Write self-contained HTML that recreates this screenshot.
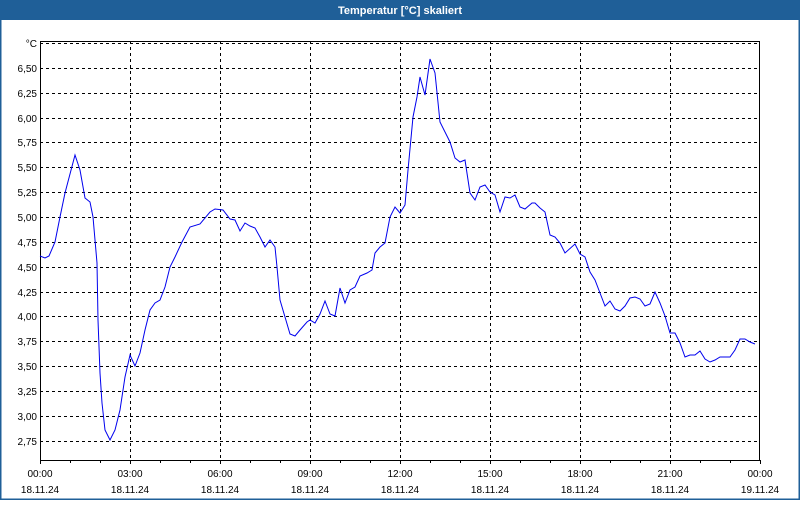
<!DOCTYPE html>
<html><head><meta charset="utf-8"><style>
body{margin:0;width:800px;height:500px;overflow:hidden;background:#fff;font-family:"Liberation Sans",sans-serif}
</style></head><body>
<svg width="800" height="500" xmlns="http://www.w3.org/2000/svg" font-family="Liberation Sans, sans-serif" font-size="11">
<rect x="0" y="0" width="800" height="500" fill="#fff"/>
<rect x="0" y="0" width="800" height="20" fill="#1f5f98"/>
<rect x="0" y="0" width="1.5" height="500" fill="#1f5f98"/>
<rect x="798.5" y="0" width="1.5" height="500" fill="#1f5f98"/>
<rect x="0" y="498.5" width="800" height="1.5" fill="#1f5f98"/>
<text x="400" y="14" fill="#fff" font-weight="bold" text-anchor="middle" font-size="11">Temperatur [°C] skaliert</text>
<g stroke="#000" stroke-width="1" stroke-dasharray="3,3" shape-rendering="crispEdges">
<path d="M40 43.5H760M40 68.5H760M40 93.5H760M40 118.5H760M40 142.5H760M40 167.5H760M40 192.5H760M40 217.5H760M40 242.5H760M40 267.5H760M40 292.5H760M40 316.5H760M40 341.5H760M40 366.5H760M40 391.5H760M40 416.5H760M40 441.5H760"/>
<path d="M130.5 41V460M220.5 41V460M310.5 41V460M400.5 41V460M490.5 41V460M580.5 41V460M670.5 41V460"/>
</g>
<g stroke="#000" stroke-width="1" fill="none" shape-rendering="crispEdges">
<path d="M40.5 41.5H759.5V460.5H40.5Z"/>
<path d="M40.5 460V464M70.5 460V463M100.5 460V463M130.5 460V464M160.5 460V463M190.5 460V463M220.5 460V464M250.5 460V463M280.5 460V463M310.5 460V464M340.5 460V463M370.5 460V463M400.5 460V464M430.5 460V463M460.5 460V463M490.5 460V464M520.5 460V463M550.5 460V463M580.5 460V464M610.5 460V463M640.5 460V463M670.5 460V464M700.5 460V463M730.5 460V463M760.5 460V464"/>
</g>
<g text-anchor="end" fill="#000" font-size="10">
<text x="37" y="47">°C</text>
<text x="37" y="72">6,50</text><text x="37" y="97">6,25</text><text x="37" y="122">6,00</text><text x="37" y="146">5,75</text><text x="37" y="171">5,50</text><text x="37" y="196">5,25</text><text x="37" y="221">5,00</text><text x="37" y="246">4,75</text><text x="37" y="271">4,50</text><text x="37" y="296">4,25</text><text x="37" y="320">4,00</text><text x="37" y="345">3,75</text><text x="37" y="370">3,50</text><text x="37" y="395">3,25</text><text x="37" y="420">3,00</text><text x="37" y="445">2,75</text>
</g>
<g text-anchor="middle" fill="#000" font-size="10">
<text x="40" y="477">00:00</text><text x="40" y="493">18.11.24</text>
<text x="130" y="477">03:00</text><text x="130" y="493">18.11.24</text>
<text x="220" y="477">06:00</text><text x="220" y="493">18.11.24</text>
<text x="310" y="477">09:00</text><text x="310" y="493">18.11.24</text>
<text x="400" y="477">12:00</text><text x="400" y="493">18.11.24</text>
<text x="490" y="477">15:00</text><text x="490" y="493">18.11.24</text>
<text x="580" y="477">18:00</text><text x="580" y="493">18.11.24</text>
<text x="670" y="477">21:00</text><text x="670" y="493">18.11.24</text>
<text x="760" y="477">00:00</text><text x="760" y="493">19.11.24</text>
</g>
<polyline fill="none" stroke="#0000ee" stroke-width="1" points="40,256 45,258 49,256 55,242 60,217 65,193 75,155 80,170 85,198 90,202 93,217 95,240 97,263 98,320 100,373 102,403 105,430 110,440 115,430 120,410 125,377 130,355 135,366 140,353 145,330 150,310 155,303 160,300 165,287 170,267 175,257 182,242 190,227 200,224 210,212 215,209 223,210 230,219 235,220 240,231 245,223 250,226 255,228 260,237 265,247 270,240 275,247 277,267 280,300 285,317 290,334 295,336 300,330 307,322 310,320 315,323 320,314 325,301 330,314 335,316 340,288 345,303 350,290 355,287 360,276 367,273 372,270 375,253 380,247 385,243 390,217 395,207 400,213 405,205 408,170 413,117 417,97 420,77 425,95 430,59 435,73 440,122 445,132 450,142 455,158 460,162 465,160 470,193 475,200 480,187 485,185 490,192 495,195 500,212 505,197 510,198 515,195 520,207 525,209 532,203 535,203 540,208 545,212 550,235 555,237 560,243 565,253 575,244 580,254 585,257 590,272 595,280 600,293 605,306 610,301 615,309 620,311 625,306 630,298 635,297 640,299 645,306 650,304 655,292 660,303 665,316 670,333 675,333 680,343 685,357 690,355 695,355 700,351 705,359 710,362 715,360 720,357 730,357 735,350 740,339 745,339 750,342 755,344"/>
</svg>
</body></html>
